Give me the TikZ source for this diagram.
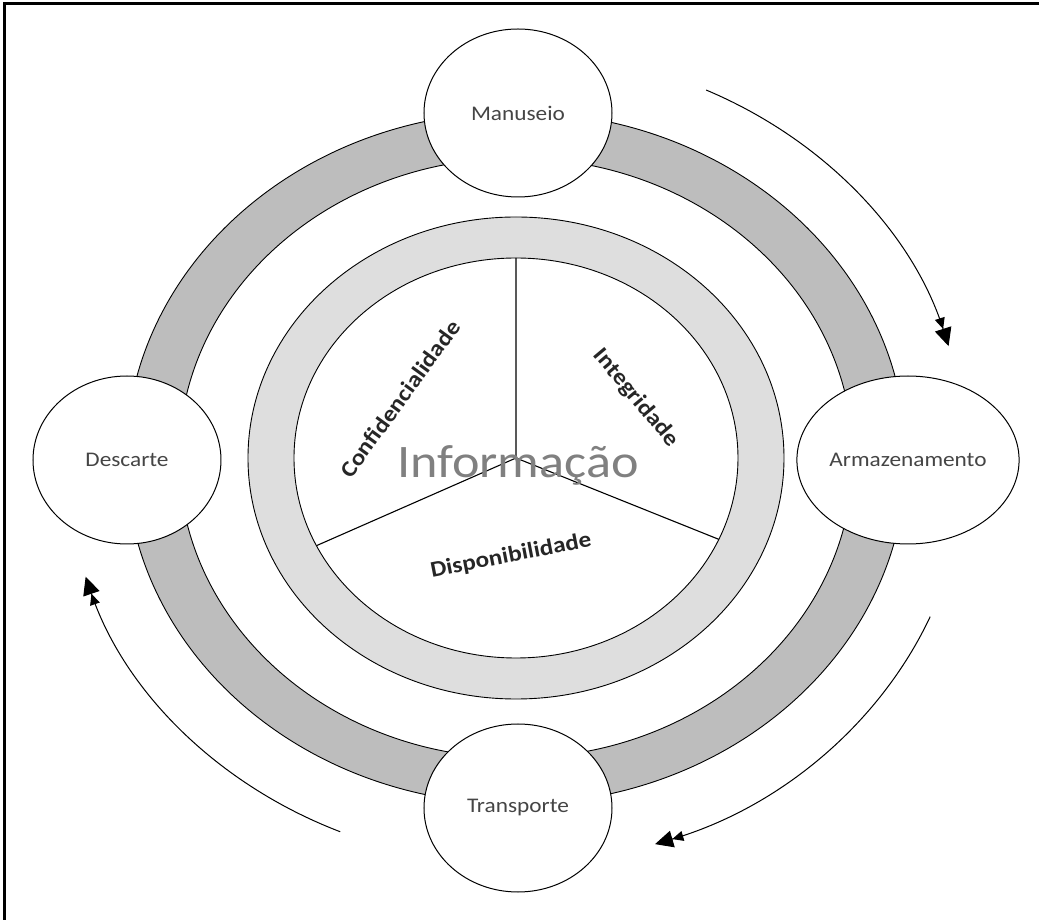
\documentclass[tikz,border=0pt]{standalone}
\usepackage{fontspec}
\setmainfont{Carlito}[FakeStretch=1.12]
\usepackage{tikz}
\usetikzlibrary{arrows.meta,shapes.geometric}
\definecolor{ringdark}{gray}{0.74}
\definecolor{ringlight}{gray}{0.87}
\definecolor{labelgray}{gray}{0.27}

\begin{document}
\begin{tikzpicture}[
  x=1pt, y=1pt,
  stage/.style={draw,ellipse,fill=white,minimum width=188pt,minimum height=168pt,inner sep=0pt,line width=1pt,text=labelgray,font=\fontsize{20.8}{24}\selectfont},
  pillar/.style={font=\fontsize{22.5}{26}\selectfont\bfseries,text=black!85},
  cyc/.style={-{Triangle[length=11pt,width=10pt]Triangle[length=18pt,width=17pt]},line width=1pt}
]
\useasboundingbox (-516,-462) rectangle (523,458);
\draw[line width=3pt] (-511,-462) -- (-511,454) -- (523,454);

\coordinate (c) at (0,0);
\draw[fill=ringdark,even odd rule,line width=0.9pt] (c) ellipse[x radius=390pt,y radius=346pt] (c) ellipse[x radius=337pt,y radius=300pt];
\draw[fill=ringlight,even odd rule,line width=0.9pt] (c) ellipse[x radius=268pt,y radius=241pt] (c) ellipse[x radius=222pt,y radius=200pt];
\draw[line width=1.1pt] (c) -- (90:222pt and 200pt) (c) -- (206:222pt and 200pt) (c) -- (-24:222pt and 200pt);

\node[anchor=base,text=black!50,font=\fontsize{46.6}{50}\selectfont] (info) at (2,-20) {Informação};
\node[pillar,rotate=54] (conf) at (-116,59) {Confidencialidade};
\node[pillar,rotate=-50] (integ) at (120,60) {Integridade};
\node[pillar,rotate=11] (disp) at (-5,-98) {Disponibilidade};

\node[stage] (man) at (2,345) {Manuseio};
\node[stage] (arm) at (392,-2) {Armazenamento};
\node[stage] (tra) at (2,-350) {Transporte};
\node[stage] (desc) at (-389,-2) {Descarte};

\coordinate (a1) at (65:450pt and 406pt);
\coordinate (a2) at (-23:450pt and 406pt);
\coordinate (a3) at (-113:450pt and 406pt);
\draw[cyc] (a1) arc[start angle=65,end angle=16,x radius=450pt,y radius=406pt];
\draw[cyc] (a2) arc[start angle=-23,end angle=-72,x radius=450pt,y radius=406pt];
\draw[cyc] (a3) arc[start angle=-113,end angle=-163,x radius=450pt,y radius=406pt];
\end{tikzpicture}
\end{document}
